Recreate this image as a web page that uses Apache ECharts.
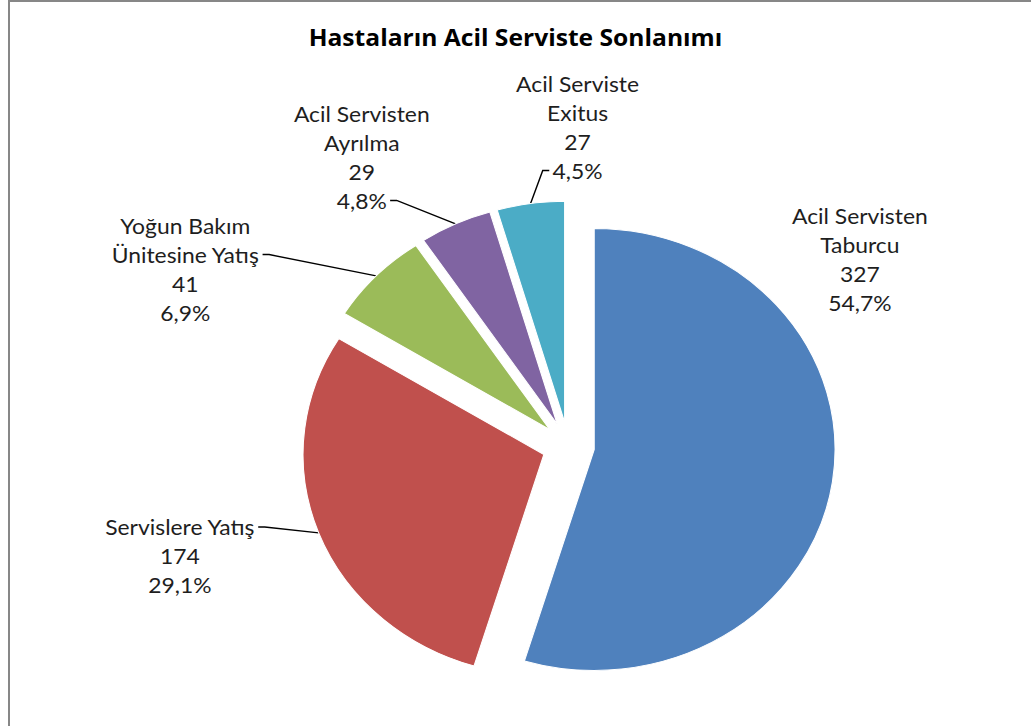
<!DOCTYPE html>
<html>
<head>
<meta charset="utf-8">
<title>Hastaların Acil Serviste Sonlanımı</title>
<script src="https://cdn.jsdelivr.net/npm/echarts@6/dist/echarts.min.js"></script>
<style>
  html, body { margin: 0; padding: 0; background: #ffffff; overflow: hidden; }
  #frame {
    position: absolute; left: 8px; top: 0px;
    width: 1100px; height: 800px;
    border: 2px solid #878787; box-sizing: border-box;
  }
  /* the chart is laid out in a narrower box and widened horizontally */
  #chart {
    position: absolute; left: 0; top: 0;
    width: 946px; height: 726px;
    transform: scaleX(1.0898); transform-origin: 0 0;
  }
</style>
</head>
<body>
<div id="frame"></div>
<div id="chart"></div>
<script>
// Outcome categories of emergency-department patients and their counts
const categories = [
  'Acil Servisten\nTaburcu',
  'Servislere Yatış',
  'Yoğun Bakım\nÜnitesine Yatış',
  'Acil Servisten\nAyrılma',
  'Acil Serviste\nExitus'
];
const patientCounts = [327, 174, 41, 29, 27];
const sliceColors = ['#4F81BD', '#C0504D', '#9BBB59', '#8064A2', '#4BACC6'];

// label block centres (chart pixels)
const labelSpots = [[789, 259], [165, 556], [170, 269], [332, 157], [530, 127]];
// which text line the leader line hooks onto, and on which side (1 right, -1 left)
const leaderHooks = [null, [0, 1], [1, 1], [3, 1], [3, -1]];

const pieCenter = [521.5, 446];
const pieRadius = 221;
const explode = 24;

const LABEL_FONT = '21px Lato';
const LINE_H = 29;

const total = patientCounts.reduce((a, b) => a + b, 0);
const pctText = v => (v / total * 100).toFixed(1).replace('.', ',') + '%';
const labelText = i => categories[i] + '\n' + patientCounts[i] + '\n' + pctText(patientCounts[i]);

const measureCtx = document.createElement('canvas').getContext('2d');
function textWidth(s) {
  measureCtx.font = LABEL_FONT;
  return measureCtx.measureText(s).width;
}

function placeLabel(params) {
  const i = params.dataIndex;
  const spot = labelSpots[i];
  const out = { x: spot[0], y: spot[1], align: 'center', verticalAlign: 'middle' };
  const hook = leaderHooks[i];
  if (hook && params.seriesIndex === i && params.labelLinePoints) {
    const lines = labelText(i).split('\n');
    const h = lines.length * LINE_H;
    const ly = spot[1] - h / 2 + LINE_H * (hook[0] + 0.5);
    const lx = spot[0] + hook[1] * (textWidth(lines[hook[0]]) / 2 + 3);
    const arc = params.labelLinePoints[0];
    out.labelLinePoints = [[arc[0], arc[1]], [lx + hook[1] * 6, ly], [lx, ly]];
  }
  return out;
}

// Each slice is drawn by its own pie series (same data, same angles), pushed
// outward along the slice's bisector so the pie appears exploded.
let running = 0;
const series = categories.map((_, i) => {
  const mid = (running + patientCounts[i] / 2) / total * Math.PI * 2;
  running += patientCounts[i];
  const cx = pieCenter[0] + Math.sin(mid) * explode;
  const cy = pieCenter[1] - Math.cos(mid) * explode;
  return {
    type: 'pie',
    center: [cx, cy],
    radius: pieRadius,
    startAngle: 90,
    clockwise: true,
    silent: true,
    avoidLabelOverlap: false,
    itemStyle: { borderColor: '#ffffff', borderWidth: 1 },
    label: {
      show: true,
      position: 'outside',
      fontFamily: 'Lato',
      fontSize: 21,
      lineHeight: LINE_H,
      color: '#1e1e1e',
      align: 'center',
      formatter: p => labelText(p.dataIndex)
    },
    labelLine: {
      show: leaderHooks[i] !== null,
      length: 10,
      length2: 6,
      lineStyle: { color: '#000000', width: 1.3 }
    },
    labelLayout: placeLabel,
    data: categories.map((name, j) => j === i
      ? { name: name, value: patientCounts[j], itemStyle: { color: sliceColors[j] } }
      : {
          name: name, value: patientCounts[j],
          itemStyle: { color: 'rgba(0,0,0,0)', borderWidth: 0 },
          label: { show: false }, labelLine: { show: false }
        })
  };
});

const chart = echarts.init(document.getElementById('chart'), null, { renderer: 'svg' });
chart.setOption({
  animation: false,
  backgroundColor: 'transparent',
  title: {
    text: 'Hastaların Acil Serviste Sonlanımı',
    left: 'center',
    top: 21,
    textStyle: { fontFamily: 'Open Sans', fontSize: 22.6, fontWeight: 'bold', color: '#000000' }
  },
  series: series
});
</script>
</body>
</html>
